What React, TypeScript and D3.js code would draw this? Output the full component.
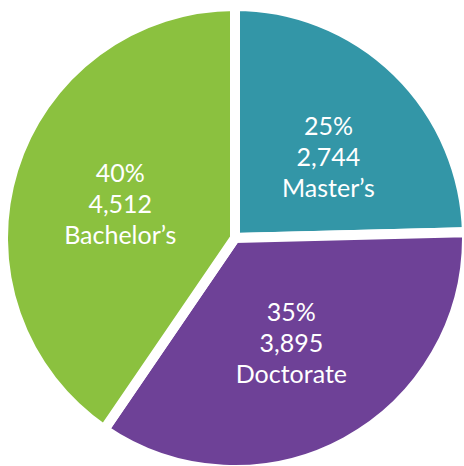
import React from "react";
import * as d3 from "d3";

const categories = ["Master’s", "Doctorate", "Bachelor’s"];
const values = [2744, 3895, 4512];
const percentLabels = ["25%", "35%", "40%"];
const colors = ["#3396A7", "#6E4197", "#8BC13F"];

const W = 464;
const H = 466;
const cx = 235;
const cy = 238;
const outerR = 232;
const labelR = 118;
const labelNudge = [[11, 2], [0, 0], [-2, 0]];

export default function App() {
  const data = categories.map((c, i) => ({ name: c, value: values[i], pct: percentLabels[i], color: colors[i] }));
  const pie = d3.pie<any>().value((d: any) => d.value).sort(null).startAngle(0).endAngle(2 * Math.PI);
  const arcs = pie(data);
  const arc = d3.arc<any>().innerRadius(0).outerRadius(outerR);
  const labelArc = d3.arc<any>().innerRadius(labelR).outerRadius(labelR);
  const fmt = d3.format(",");
  return (
    <svg width={W} height={H} style={{ position: "absolute", left: 0, top: 0, background: "#fff" }}>
      <g transform={`translate(${cx},${cy})`}>
        {arcs.map((a, i) => (
          <path key={i} d={arc(a) as string} fill={a.data.color} stroke="#fff" strokeWidth={10} strokeLinejoin="miter" />
        ))}
        {arcs.map((a, i) => {
          const [x0, y0] = labelArc.centroid(a);
          const x = x0 + labelNudge[i][0];
          const y = y0 + labelNudge[i][1];
          const lines = [a.data.pct, fmt(a.data.value), a.data.name];
          return (
            <text key={"t" + i} x={x} y={y} textAnchor="middle" fill="#fff" fontFamily="Lato, 'Open Sans', sans-serif" fontSize={25}>
              {lines.map((l, j) => (
                <tspan key={j} x={x} y={y + (j - 1) * 31} dominantBaseline="central">{l}</tspan>
              ))}
            </text>
          );
        })}
      </g>
    </svg>
  );
}
